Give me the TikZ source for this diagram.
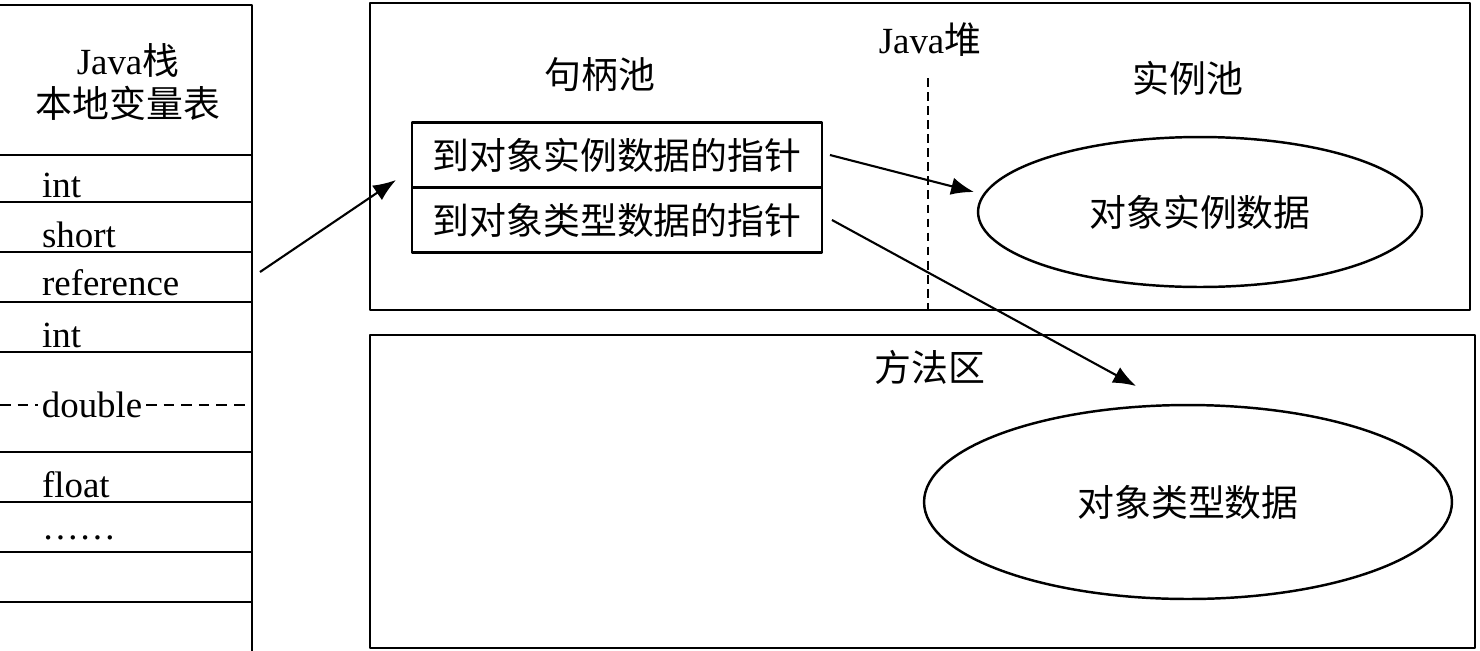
\documentclass[tikz,border=0pt]{standalone}
\usepackage{fontspec}
\setmainfont{Liberation Serif}
\newfontfamily\cjk{Noto Sans CJK SC}
\usetikzlibrary{arrows.meta,shapes.geometric}
\begin{document}
\begin{tikzpicture}[x=0.02cm,y=-0.02cm,line join=round,
    font=\fontsize{21}{25}\selectfont,
    cn/.style={font=\fontsize{21}{25}\selectfont\cjk},
    box/.style={draw,line width=1.4pt},
    ptr/.style={box,cn,minimum width=8.2cm,minimum height=1.3cm,inner sep=0pt,outer sep=0pt},
    pool/.style={box,cn,ellipse,inner sep=0pt},
    link/.style={-{Latex[length=13pt,width=10pt]},line width=1.2pt}]
  \useasboundingbox (0,0) rectangle (1480,650);
  \draw[box] (0,5) -- (252,5) -- (252,655);
  \node[align=center] (stackTitle) at (128,82) {Java{\cjk 栈}\\{\cjk 本地变量表}};
  \foreach \y in {155,202,252,302,352,452,502,552,602}
    \draw[line width=1.2pt] (0,\y) -- (252,\y);
  \foreach \y/\t [count=\i] in {185/int,235/short,283/reference,335/int,485/float,538/{\ldots\ldots}}
    \node[anchor=west,inner sep=1pt] (var\i) at (40,\y) {\t};
  \node[anchor=west,inner sep=2pt] (dbl) at (38,405) {double};
  \draw[dash pattern=on 6pt off 4pt,line width=1pt] (0,405) -- (dbl.west) (dbl.east) -- (252,405);
  \draw[box] (370,3) rectangle (1470,310);
  \node (heap) at (930,40) {Java{\cjk 堆}};
  \draw[dash pattern=on 5pt off 3pt,line width=1.2pt] (928,78) -- (928,310);
  \node[cn] (handlePool) at (600,75) {句柄池};
  \node[cn] (instPool) at (1188,78) {实例池};
  \node[ptr] (ptrInst) at (617,155) {到对象实例数据的指针};
  \node[ptr,anchor=north] (ptrType) at (ptrInst.south) {到对象类型数据的指针};
  \node[pool,minimum width=8.88cm,minimum height=3cm] (instData) at (1200,212) {对象实例数据};
  \draw[box] (370,335) rectangle (1475,648);
  \node[cn] (method) at (930,367) {方法区};
  \node[pool,minimum width=10.56cm,minimum height=3.88cm] (typeData) at (1188,502) {对象类型数据};
  \coordinate (refOut) at (260,272);
  \coordinate (ptrIn) at (396,180);
  \coordinate (instIn) at (974,192);
  \coordinate (typeIn) at (1136,386);
  \draw[link] (refOut) -- (ptrIn);
  \draw[link] ([xshift=0.16cm]ptrInst.east) -- (instIn);
  \draw[link] ([xshift=0.2cm]ptrType.east) -- (typeIn);
\end{tikzpicture}
\end{document}
